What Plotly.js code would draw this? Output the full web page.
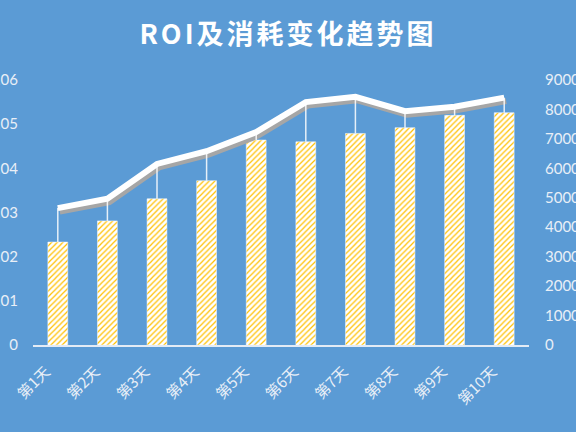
<!DOCTYPE html>
<html>
<head>
<meta charset="utf-8">
<script src="https://cdn.plot.ly/plotly-3.0.1.min.js"></script>
<style>
	html, body { margin: 0; padding: 0; background: #5B9BD5; }
	#chart { width: 576px; height: 432px; }
	.gtitle { letter-spacing: 3px; }
</style>
</head>
<body>
<div id="chart"></div>
<script>
// --- DATA ---
const days = ['第1天', '第2天', '第3天', '第4天', '第5天', '第6天', '第7天', '第8天', '第9天', '第10天'];
const roi = [0.0233, 0.0281, 0.0331, 0.0372, 0.0464, 0.0460, 0.0479, 0.0492, 0.0520, 0.0526];
const cost = [4650, 4970, 6150, 6580, 7230, 8250, 8430, 7940, 8090, 8400];

const ROI_MAX = 0.06;
const COST_MAX = 9000;

// drop lines go from the line down to the bar top (bar value in cost units)
const dropLen = cost.map((c, i) => c - roi[i] * COST_MAX / ROI_MAX);

const tickFont = { family: 'Lato, "Noto Sans CJK SC", sans-serif', size: 15, color: '#e9eff7' };

const traces = [
	{
		// ROI bars, hatched
		x: days, y: roi, type: 'bar', name: 'ROI',
		width: 0.4,
		marker: {
			color: '#FFFFFF',
			line: { color: '#FFFFFF', width: 0.5 },
			pattern: { shape: '/', fgcolor: '#FFC000', bgcolor: '#FFFFFF', size: 4, solidity: 0.3, fillmode: 'replace' }
		},
		xaxis: 'x', yaxis: 'y'
	},
	{
		// shadow of the cost line
		x: days, y: cost, type: 'scatter', mode: 'lines', name: 'shadow',
		line: { color: '#a6a6a6', width: 6 },
		xaxis: 'x2', yaxis: 'y2', hoverinfo: 'skip'
	},
	{
		// cost line with drop lines
		x: days, y: cost, type: 'scatter', mode: 'lines', name: '消耗',
		line: { color: '#FFFFFF', width: 6 },
		error_y: {
			type: 'data', symmetric: false,
			array: cost.map(() => 0), arrayminus: dropLen,
			width: 0, thickness: 1.5, color: 'rgba(255,255,255,0.85)'
		},
		xaxis: 'x3', yaxis: 'y3'
	}
];

// shadow axes are offset by a few pixels (right and down)
const plotW = 576 - 33 - 47;
const plotH = 432 - 80 - 87;
const dx = 2 / plotW * 10;
const dy = 3.5 / plotH * COST_MAX;

const layout = {
	width: 576, height: 432,
	paper_bgcolor: '#5B9BD5',
	plot_bgcolor: 'rgba(0,0,0,0)',
	margin: { l: 33, r: 47, t: 80, b: 87 },
	showlegend: false,
	title: {
		text: '<b>ROI及消耗变化趋势图</b>',
		x: 0.5, xanchor: 'center', y: 0.92, yanchor: 'middle',
		font: { family: '"Noto Sans CJK SC", sans-serif', size: 27, color: '#FFFFFF' }
	},
	xaxis: {
		type: 'category', range: [-0.5, 9.5],
		showline: true, linecolor: '#e3ebf5', linewidth: 2,
		showgrid: false, zeroline: false, ticks: '',
		tickangle: -45, ticklabelstandoff: 10, ticklabelshift: -12,
		tickfont: { family: '"Noto Sans CJK SC", sans-serif', size: 15, color: '#e9eff7' }
	},
	xaxis2: {
		type: 'category', overlaying: 'x', range: [-0.5 - dx, 9.5 - dx],
		visible: false
	},
	xaxis3: {
		type: 'category', overlaying: 'x', range: [-0.5, 9.5],
		visible: false
	},
	yaxis: {
		range: [0, ROI_MAX], dtick: 0.01,
		showgrid: false, zeroline: false, showline: false, ticks: '',
		ticklabelstandoff: 14,
		tickfont: tickFont
	},
	yaxis2: {
		overlaying: 'y', range: [dy, COST_MAX + dy], visible: false
	},
	yaxis3: {
		overlaying: 'y', side: 'right', range: [0, COST_MAX], dtick: 1000,
		tickformat: 'd',
		showgrid: false, zeroline: false, showline: false, ticks: '',
		ticklabelstandoff: 15,
		tickfont: tickFont
	},
	bargap: 0.6
};

Plotly.newPlot('chart', traces, layout, { displayModeBar: false, staticPlot: true });
</script>
</body>
</html>
